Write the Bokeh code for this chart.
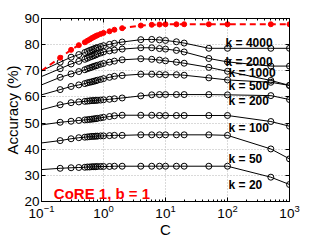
from bokeh.plotting import figure
from bokeh.models import LinearAxis, LogAxis, Label, FixedTicker, LogTicker, Range1d, CustomJSTickFormatter
from bokeh.embed import file_html
from bokeh.resources import INLINE

# ---- data ----
C = [0.1, 0.2, 0.3, 0.4, 0.5, 0.55, 0.6, 0.65, 0.7, 0.75, 0.8, 0.9, 1, 1.25, 1.5, 2,
     4, 6, 8, 10, 15, 20, 50, 100, 500, 1000]

core_acc = [70.0, 75.0, 78.0, 79.8, 80.9, 81.5, 82.0, 82.5, 82.9, 83.3, 83.6, 84.1, 84.5, 85.1, 85.7, 86.3,
            87.3, 87.6, 87.7, 87.8, 87.8, 87.8, 87.8, 87.8, 87.8, 87.8]

acc_k4000 = [70.0, 73.3, 75.2, 76.2, 77.0, 77.4, 77.8, 78.1, 78.4, 78.7, 78.9, 79.3, 79.6, 80.1, 80.5, 81.0,
             81.9, 82.0, 81.8, 81.6, 81.1, 80.6, 78.6, 78.6, 78.6, 78.6]
acc_k2000 = [67.8, 70.8, 72.6, 73.6, 74.4, 74.8, 75.2, 75.5, 75.8, 76.1, 76.4, 76.8, 77.2, 77.6, 77.9, 78.3,
             78.8, 78.8, 78.5, 78.3, 77.8, 77.2, 74.7, 73.4, 71.8, 71.8]
acc_k1000 = [64.6, 67.5, 68.8, 69.7, 70.4, 70.8, 71.1, 71.4, 71.7, 71.9, 72.1, 72.5, 72.8, 73.3, 73.7, 74.2,
             74.6, 74.4, 74.1, 73.8, 73.3, 72.9, 71.3, 69.8, 66.3, 64.4]
acc_k500 = [60.8, 62.8, 64.0, 64.6, 65.1, 65.4, 65.6, 65.8, 66.0, 66.2, 66.4, 66.7, 67.0, 67.5, 67.9, 68.2,
            68.7, 68.7, 68.6, 68.5, 68.5, 68.3, 67.3, 66.5, 65.6, 64.4]
acc_k200 = [55.1, 57.0, 57.8, 58.1, 58.3, 58.4, 58.5, 58.6, 58.6, 58.7, 58.7, 58.8, 58.9, 59.1, 59.3, 59.6,
            60.4, 60.8, 60.9, 60.9, 60.9, 60.9, 60.9, 60.8, 60.5, 59.0]
acc_k100 = [49.3, 50.3, 50.7, 51.0, 51.2, 51.3, 51.4, 51.5, 51.6, 51.7, 51.8, 52.0, 52.2, 52.5, 52.8, 53.0,
            53.0, 53.0, 52.9, 52.9, 52.9, 52.9, 52.9, 52.9, 50.6, 48.8]
acc_k50 = [42.4, 43.3, 44.0, 44.4, 44.6, 44.7, 44.8, 44.9, 44.9, 45.0, 45.0, 45.1, 45.1, 45.2, 45.3, 45.3,
           45.5, 45.5, 45.5, 45.5, 45.5, 45.5, 45.5, 45.3, 40.1, 36.3]
acc_k20 = [32.2, 32.7, 32.9, 33.0, 33.1, 33.2, 33.2, 33.3, 33.3, 33.3, 33.4, 33.4, 33.4, 33.4, 33.5, 33.5,
           33.5, 33.5, 33.5, 33.5, 33.5, 33.5, 33.5, 33.5, 29.3, 26.5]

k_series = [acc_k4000, acc_k2000, acc_k1000, acc_k500, acc_k200, acc_k100, acc_k50, acc_k20]
k_labels = ["k = 4000", "k = 2000", "k = 1000", "k = 500", "k = 200", "k = 100", "k = 50", "k = 20"]
y_ticks = [20, 30, 40, 50, 60, 70, 80, 90]
x_ticks = [0.1, 1, 10, 100, 1000]

# label placement (data coords)
k_label_x = [93, 93, 104, 104, 104, 104, 104, 104]
k_label_y = [80.8, 73.5, 69.1, 64.0, 58.6, 48.2, 36.3, 26.5]

FONT = "Liberation Sans"

p = figure(frame_width=248, frame_height=183, x_axis_type="log",
           x_range=Range1d(0.1, 1000), y_range=Range1d(20, 90),
           output_backend="svg", toolbar_location=None,
           min_border_left=41, min_border_right=30, min_border_top=18, min_border_bottom=39)
p.background_fill_color = "white"
p.border_fill_color = "white"
p.outline_line_color = "black"
p.outline_line_width = 1

# grid
for g in (p.xgrid, p.ygrid):
    g.grid_line_color = "#b4b4b4"
    g.grid_line_dash = "1 2"
    g.grid_line_width = 1
p.xgrid.ticker = FixedTicker(ticks=x_ticks)
p.ygrid.ticker = FixedTicker(ticks=y_ticks)

# axes
xa = p.xaxis[0]
xa.ticker = LogTicker(desired_num_ticks=5, num_minor_ticks=10)
ya = p.yaxis[0]
ya.ticker = FixedTicker(ticks=y_ticks)
for ax in (xa, ya):
    ax.major_tick_in = 4
    ax.major_tick_out = 0
    ax.minor_tick_in = 2
    ax.minor_tick_out = 0
    ax.axis_line_color = "black"
    ax.major_label_text_font = FONT
    ax.major_label_text_font_size = "13.5px"
    ax.major_label_text_color = "black"
    ax.axis_label_text_font = FONT
    ax.axis_label_text_font_size = "15px"
    ax.axis_label_text_font_style = "normal"
    ax.axis_label_text_color = "black"
ya.minor_tick_line_color = None
ya.axis_label = "Accuracy (%)"
ya.axis_label_standoff = 0
ya.major_label_standoff = 2
xa.axis_label = "C"
xa.axis_label_standoff = 0
xa.major_label_standoff = 3

top = LogAxis(ticker=LogTicker(desired_num_ticks=5, num_minor_ticks=10),
              formatter=CustomJSTickFormatter(code="return ''"))
right = LinearAxis(ticker=FixedTicker(ticks=y_ticks),
                   formatter=CustomJSTickFormatter(code="return ''"))
for ax in (top, right):
    ax.major_tick_in = 4
    ax.major_tick_out = 0
    ax.minor_tick_in = 2
    ax.minor_tick_out = 0
    ax.major_label_standoff = 0
    ax.axis_line_color = "black"
right.minor_tick_line_color = None
p.add_layout(top, "above")
p.add_layout(right, "right")

# black curves
for ys in k_series:
    p.line(C, ys, line_color="black", line_width=1)
    p.scatter(C[1:], ys[1:], marker="circle", size=6, fill_color=None,
              line_color="black", line_width=1)

# red CoRE curve
p.line(C, core_acc, line_color="#ff0000", line_width=2, line_dash="6 4")
p.scatter(C[1:], core_acc[1:], marker="circle", size=5, fill_color="#ff0000",
          line_color="#ff0000")

for t, x, y in zip(k_labels, k_label_x, k_label_y):
    p.add_layout(Label(x=x, y=y, text=t, text_font=FONT, text_font_size="12px",
                       text_font_style="bold", text_color="black",
                       text_baseline="middle", text_align="left"))

p.add_layout(Label(x=0.158, y=22.9, text="CoRE 1, b = 1", text_font=FONT,
                   text_font_size="15px", text_font_style="bold", text_color="#ff0000",
                   text_baseline="middle", text_align="left"))

open("out.html", "w").write(file_html(p, INLINE))
